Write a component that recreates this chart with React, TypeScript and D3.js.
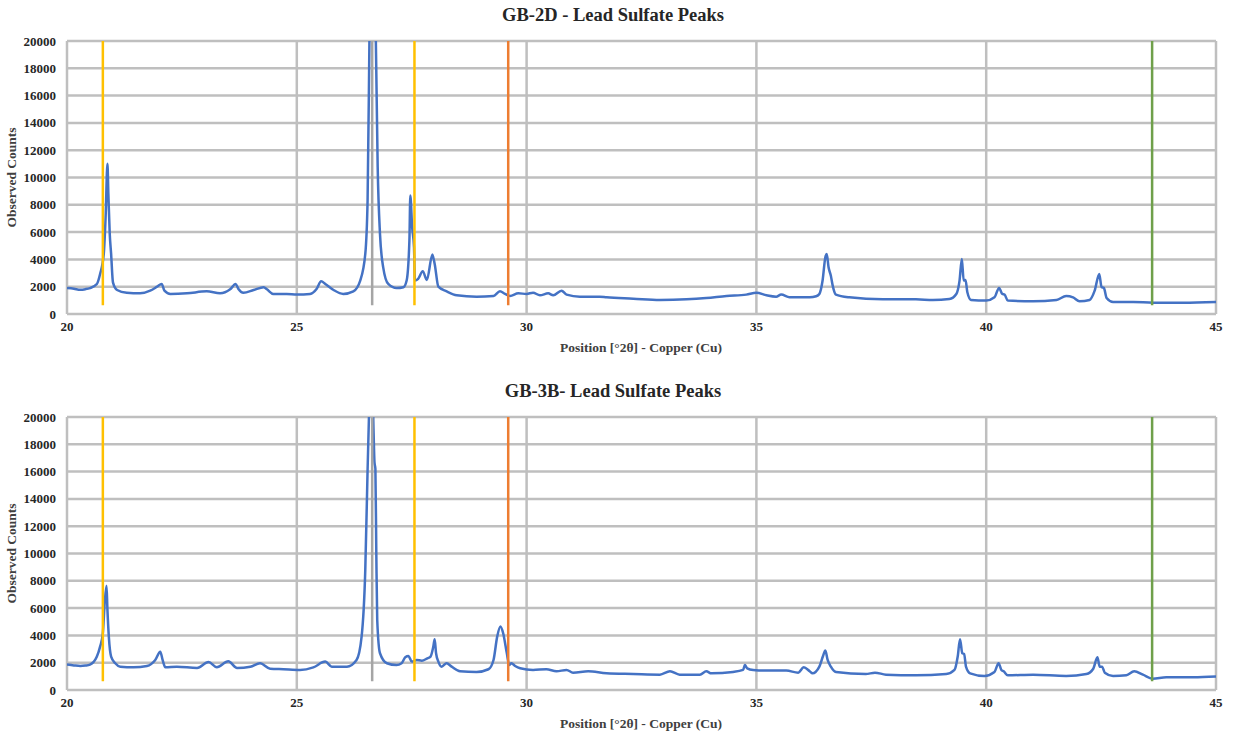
import React from "react";
import * as d3 from "d3";

// ---- Data ----
const xTicks = [20, 25, 30, 35, 40, 45];
const yTicks = [0, 2000, 4000, 6000, 8000, 10000, 12000, 14000, 16000, 18000, 20000];

const markerPositions = [20.78, 26.64, 27.56, 29.6, 43.61];
const markerColors = ["#FFC000", "#A5A5A5", "#FFC000", "#ED7D31", "#6FA04A"];
const markerRange = [650, 20000];

const gb2dPoints: [number, number][] = [
  [20.0, 1900], [20.15, 1850], [20.29, 1780], [20.4, 1820], [20.5, 1900], [20.65, 2200], [20.72, 2930],
  [20.8, 4400], [20.84, 7090], [20.88, 11000], [20.9, 8800], [20.93, 5870], [20.96, 4400],
  [21.0, 2320], [21.09, 1760], [21.3, 1560], [21.59, 1515], [21.81, 1710], [21.96, 2000],
  [22.06, 2200], [22.12, 1710], [22.25, 1470], [22.61, 1515], [23.04, 1660], [23.33, 1515],
  [23.55, 1810], [23.67, 2200], [23.73, 1830], [23.84, 1560], [24.06, 1760], [24.28, 1960],
  [24.35, 1810], [24.49, 1470], [24.78, 1470], [25.0, 1420], [25.29, 1470], [25.43, 1830],
  [25.53, 2400], [25.62, 2200], [25.8, 1760], [26.01, 1470], [26.23, 1660], [26.38, 2450],
  [26.49, 4400], [26.54, 8300], [26.58, 20000], [26.65, 42000], [26.72, 20000], [26.76, 10760],
  [26.81, 5870], [26.88, 3420], [26.99, 2200], [27.17, 1900], [27.32, 1960], [27.39, 2450],
  [27.45, 5380], [27.47, 8680], [27.51, 6360], [27.55, 4890], [27.57, 2450], [27.64, 2570],
  [27.74, 3130], [27.83, 2500], [27.95, 4350], [28.0, 3670], [28.08, 2000], [28.26, 1660],
  [28.48, 1370], [28.91, 1270], [29.28, 1320], [29.42, 1660], [29.53, 1470], [29.64, 1320],
  [29.82, 1515], [30.0, 1470], [30.14, 1560], [30.29, 1370], [30.47, 1515], [30.58, 1370],
  [30.76, 1710], [30.87, 1420], [31.16, 1270], [31.59, 1270], [31.74, 1220], [32.32, 1125],
  [32.9, 1030], [33.48, 1075], [33.91, 1170], [34.35, 1320], [34.78, 1420], [35.0, 1560],
  [35.22, 1370], [35.43, 1270], [35.54, 1420], [35.72, 1220], [36.16, 1220], [36.3, 1300],
  [36.37, 1470], [36.44, 2450], [36.5, 4160], [36.53, 4400], [36.57, 3420], [36.62, 2800],
  [36.66, 2080], [36.73, 1420], [37.02, 1220], [37.75, 1075], [38.47, 1075], [38.84, 1030],
  [39.2, 1100], [39.35, 1470], [39.42, 2450], [39.47, 4030], [39.51, 2450], [39.55, 2500],
  [39.59, 1590], [39.67, 1030], [40.0, 980], [40.18, 1220], [40.28, 1910], [40.35, 1470],
  [40.4, 1420], [40.47, 980], [41.02, 930], [41.53, 1030], [41.74, 1320], [41.89, 1220],
  [42.03, 930], [42.25, 1030], [42.36, 1710], [42.46, 2930], [42.51, 1960], [42.56, 1910],
  [42.62, 1170], [42.76, 880], [43.2, 880], [43.63, 830], [44.29, 830], [45.0, 880],
];

const gb3bPoints: [number, number][] = [
  [20.0, 1860], [20.15, 1800], [20.29, 1760], [20.4, 1790], [20.5, 1860], [20.65, 2450], [20.72, 3180],
  [20.78, 4160], [20.82, 6360], [20.86, 7630], [20.88, 5870], [20.91, 3910], [20.96, 2450],
  [21.05, 1960], [21.16, 1710], [21.45, 1660], [21.74, 1760], [21.92, 2200], [22.03, 2810],
  [22.08, 2200], [22.14, 1660], [22.39, 1710], [22.83, 1610], [23.08, 2050], [23.26, 1660],
  [23.51, 2100], [23.7, 1610], [23.99, 1710], [24.2, 1960], [24.42, 1560], [24.71, 1520],
  [25.07, 1470], [25.36, 1660], [25.62, 2080], [25.76, 1710], [26.09, 1710], [26.3, 2200],
  [26.41, 3910], [26.49, 8800], [26.54, 16100], [26.57, 20000], [26.62, 26000], [26.67, 19000],
  [26.69, 16700], [26.71, 16200], [26.73, 10000], [26.75, 5130], [26.81, 2690], [26.96, 1960],
  [27.17, 1830], [27.28, 1960], [27.36, 2400], [27.43, 2490], [27.5, 2080], [27.61, 2200],
  [27.72, 2150], [27.83, 2300], [27.91, 2450], [27.97, 3180], [28.0, 3720], [28.03, 2690],
  [28.08, 2080], [28.15, 1710], [28.26, 1960], [28.37, 1710], [28.55, 1370], [28.91, 1320],
  [29.17, 1520], [29.28, 2200], [29.36, 3910], [29.43, 4650], [29.49, 4160], [29.57, 2690],
  [29.62, 1830], [29.67, 1960], [29.75, 1760], [29.86, 1590], [30.14, 1470], [30.43, 1520],
  [30.65, 1370], [30.87, 1470], [31.01, 1270], [31.34, 1370], [31.74, 1220], [32.32, 1170],
  [32.9, 1125], [33.12, 1370], [33.33, 1125], [33.77, 1125], [33.91, 1370], [34.02, 1220],
  [34.49, 1320], [34.71, 1470], [34.75, 1830], [34.8, 1590], [34.93, 1470], [35.22, 1420],
  [35.65, 1420], [35.91, 1270], [36.03, 1660], [36.16, 1370], [36.22, 1220], [36.37, 1710],
  [36.45, 2490], [36.5, 2890], [36.55, 2200], [36.62, 1710], [36.73, 1320], [37.38, 1170],
  [37.58, 1270], [37.82, 1125], [38.47, 1075], [39.13, 1170], [39.31, 1470], [39.38, 2450],
  [39.43, 3720], [39.48, 2690], [39.52, 2640], [39.56, 1710], [39.65, 1220], [39.96, 1030],
  [40.18, 1320], [40.27, 1960], [40.33, 1470], [40.38, 1370], [40.47, 1075], [41.02, 1125],
  [41.74, 1030], [42.18, 1170], [42.33, 1560], [42.42, 2400], [42.47, 1710], [42.52, 1710],
  [42.58, 1270], [42.76, 1030], [43.05, 1075], [43.22, 1370], [43.41, 1125], [43.62, 830],
  [43.92, 930], [44.51, 930], [45.0, 980],
];

const panelTitles = ["GB-2D - Lead Sulfate Peaks", "GB-3B- Lead Sulfate Peaks"];
const xAxisTitle = "Position [°2θ] - Copper (Cu)";
const yAxisTitle = "Observed Counts";

// ---- Layout ----
const W = 1233;
const H = 733;
const plotLeft = 67;
const plotRight = 1216;
const panelTops = [41, 417];
const plotHeight = 273;
const FONT = "'Liberation Serif', 'Times New Roman', serif";
const GRID = "#BFBFBF";
const BLUE = "#4472C4";

function Panel({ idx, points }: { idx: number; points: [number, number][] }) {
  const top = panelTops[idx];
  const bottom = top + plotHeight;
  const x = d3.scaleLinear().domain([20, 45]).range([plotLeft, plotRight]);
  const y = d3.scaleLinear().domain([0, 20000]).range([bottom, top]);
  const line = d3
    .line<[number, number]>()
    .x((d) => x(d[0]))
    .y((d) => y(d[1]))
    .curve(d3.curveMonotoneX);
  const clipId = `clip-${idx}`;
  return (
    <g>
      <defs>
        <clipPath id={clipId}>
          <rect x={plotLeft} y={top} width={plotRight - plotLeft} height={plotHeight} />
        </clipPath>
      </defs>
      <text
        x={613}
        y={top - 20}
        textAnchor="middle"
        fontFamily={FONT}
        fontWeight="bold"
        fontSize={18.5}
        fill="#262626"
      >
        {panelTitles[idx]}
      </text>
      {yTicks.map((t) => (
        <line key={"h" + t} x1={plotLeft} x2={plotRight} y1={y(t)} y2={y(t)} stroke={GRID} strokeWidth={2.5} />
      ))}
      {xTicks.map((t) => (
        <line key={"v" + t} x1={x(t)} x2={x(t)} y1={top} y2={bottom} stroke={GRID} strokeWidth={2.5} />
      ))}
      <path d={line(points) || ""} fill="none" stroke={BLUE} strokeWidth={2.5} clipPath={`url(#${clipId})`} strokeLinejoin="round" />
      {markerPositions.map((m, i) => (
        <line
          key={"m" + i}
          x1={x(m)}
          x2={x(m)}
          y1={y(markerRange[0])}
          y2={y(markerRange[1])}
          stroke={markerColors[i]}
          strokeWidth={2.5}
        />
      ))}
      {yTicks.map((t) => (
        <text
          key={"yl" + t}
          x={plotLeft - 11}
          y={y(t)}
          dy="0.35em"
          textAnchor="end"
          fontFamily={FONT}
          fontWeight="bold"
          fontSize={13}
          fill="#262626"
        >
          {t}
        </text>
      ))}
      {xTicks.map((t) => (
        <text
          key={"xl" + t}
          x={x(t)}
          y={bottom + 17}
          textAnchor="middle"
          fontFamily={FONT}
          fontWeight="bold"
          fontSize={13}
          fill="#262626"
        >
          {t}
        </text>
      ))}
      <text
        x={641}
        y={bottom + 38}
        textAnchor="middle"
        fontFamily={FONT}
        fontWeight="bold"
        fontSize={13.5}
        fill="#404040"
      >
        {xAxisTitle}
      </text>
      <text
        transform={`translate(16, ${(top + bottom) / 2}) rotate(-90)`}
        textAnchor="middle"
        fontFamily={FONT}
        fontWeight="bold"
        fontSize={13.5}
        fill="#404040"
      >
        {yAxisTitle}
      </text>
    </g>
  );
}

export default function App() {
  return (
    <svg
      width={W}
      height={H}
      style={{ position: "absolute", left: 0, top: 0, background: "#fff" }}
    >
      <rect x={0} y={0} width={W} height={H} fill="#fff" />
      <Panel idx={0} points={gb2dPoints} />
      <Panel idx={1} points={gb3bPoints} />
    </svg>
  );
}
